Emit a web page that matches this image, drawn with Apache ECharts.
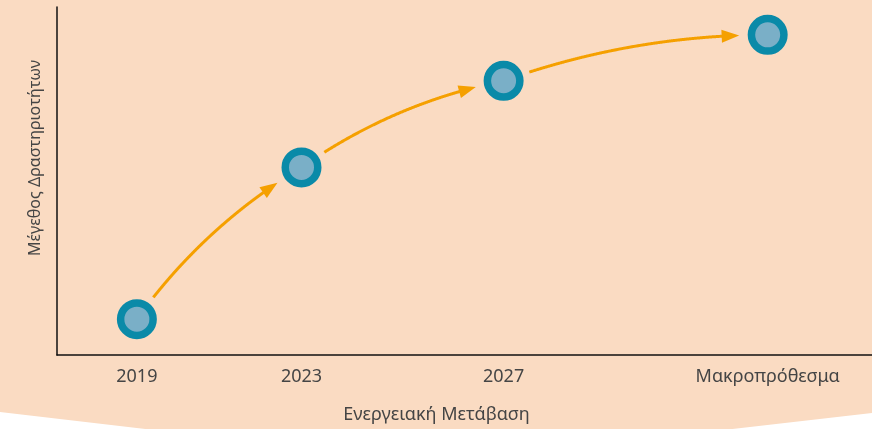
<!DOCTYPE html>
<html>
<head>
<meta charset="utf-8">
<script src="https://cdn.jsdelivr.net/npm/echarts@6/dist/echarts.min.js"></script>
<style>
  html, body { margin: 0; padding: 0; background: #ffffff; }
  #chart { width: 872px; height: 429px; }
</style>
</head>
<body>
<div id="chart"></div>
<script>
// Stages of the energy transition and the relative scale of activity at each one
const stageLabels = ['2019', '2023', '2027', 'Μακροπρόθεσμα'];
const stagePosition = [9.8, 30.0, 54.8, 87.2];   // position along the transition axis (0–100)
const activitySize = [10.3, 53.9, 78.8, 92.0];   // relative size of activities (0–100)

const xAxisTitle = 'Ενεργειακή Μετάβαση';
const yAxisTitle = 'Μέγεθος Δραστηριοτήτων';

const PEACH = '#FADBC2';
const RING = '#0A8AA8';
const CORE = '#7AAFC7';
const ARROW = '#F5A000';
const TEXT = '#454545';
const FONT = '"Noto Sans", "DejaVu Sans", sans-serif';

const chart = echarts.init(document.getElementById('chart'), null, { renderer: 'canvas' });

// Consecutive stage pairs, each joined by a curved arrow
const arrowPairs = stagePosition.slice(0, -1).map((x, i) => [
  x, activitySize[i], stagePosition[i + 1], activitySize[i + 1]
]);

function renderArrow(params, api) {
  const p0 = api.coord([api.value(0), api.value(1)]);
  const p1 = api.coord([api.value(2), api.value(3)]);
  const dx = p1[0] - p0[0], dy = p1[1] - p0[1];
  const len = Math.hypot(dx, dy);
  const bend = 23;                         // sideways pull of the curve, px
  const ctrl = [
    (p0[0] + p1[0]) / 2 + dy / len * bend,
    (p0[1] + p1[1]) / 2 - dx / len * bend
  ];
  const gapStart = 27, gapEnd = 28, headLen = 17, headHalf = 6.5;

  const bez = t => [
    (1 - t) * (1 - t) * p0[0] + 2 * (1 - t) * t * ctrl[0] + t * t * p1[0],
    (1 - t) * (1 - t) * p0[1] + 2 * (1 - t) * t * ctrl[1] + t * t * p1[1]
  ];
  const samples = [];
  for (let k = 0; k <= 400; k++) samples.push(bez(k / 400));

  // tip of the arrow sits gapEnd px before the target centre
  let tipIdx = samples.length - 1;
  while (tipIdx > 0 && Math.hypot(samples[tipIdx][0] - p1[0], samples[tipIdx][1] - p1[1]) < gapEnd) tipIdx--;
  const tip = samples[tipIdx];
  let baseIdx = tipIdx;
  while (baseIdx > 0 && Math.hypot(samples[baseIdx][0] - tip[0], samples[baseIdx][1] - tip[1]) < headLen) baseIdx--;
  const base = samples[baseIdx];
  let startIdx = 0;
  while (startIdx < samples.length - 1 && Math.hypot(samples[startIdx][0] - p0[0], samples[startIdx][1] - p0[1]) < gapStart) startIdx++;

  const line = samples.slice(startIdx, baseIdx + 2);
  const hl = Math.hypot(tip[0] - base[0], tip[1] - base[1]);
  const ux = (tip[0] - base[0]) / hl, uy = (tip[1] - base[1]) / hl;
  const head = [
    tip,
    [base[0] - uy * headHalf, base[1] + ux * headHalf],
    [base[0] + uy * headHalf, base[1] - ux * headHalf]
  ];
  return {
    type: 'group',
    children: [
      { type: 'polyline', shape: { points: line }, style: { stroke: ARROW, lineWidth: 3, fill: null, lineCap: 'butt' } },
      { type: 'polygon', shape: { points: head }, style: { fill: ARROW } }
    ]
  };
}

const option = {
  animation: false,
  backgroundColor: '#ffffff',
  graphic: [{
    type: 'polygon',
    z: -10,
    silent: true,
    shape: { points: [[0, 0], [872, 0], [872, 413], [436, 463], [0, 412]] },
    style: { fill: PEACH }
  }],
  grid: { left: 57, right: 0, top: 7, bottom: 74, containLabel: false },
  xAxis: {
    type: 'value',
    min: 0,
    max: 100,
    name: xAxisTitle,
    nameLocation: 'middle',
    nameGap: 51,
    nameTextStyle: { color: TEXT, fontSize: 18, fontFamily: FONT, padding: [0, 56, 0, 0] },
    axisLine: { show: true, lineStyle: { color: '#111111', width: 1.5 } },
    axisTick: { show: false },
    splitLine: { show: false },
    axisLabel: {
      customValues: stagePosition,
      formatter: v => stageLabels[stagePosition.indexOf(v)] || '',
      color: TEXT,
      fontSize: 18,
      fontFamily: FONT,
      margin: 13
    }
  },
  yAxis: {
    type: 'value',
    min: 0,
    max: 100,
    name: yAxisTitle,
    nameLocation: 'middle',
    nameGap: 14,
    nameTextStyle: { color: TEXT, fontSize: 16, fontFamily: FONT, padding: [0, 0, 0, 46] },
    axisLine: { show: true, lineStyle: { color: '#111111', width: 1.5 } },
    axisTick: { show: false },
    axisLabel: { show: false },
    splitLine: { show: false }
  },
  series: [
    {
      type: 'custom',
      coordinateSystem: 'cartesian2d',
      z: 2,
      encode: { x: [0, 2], y: [1, 3] },
      data: arrowPairs,
      renderItem: renderArrow,
      silent: true
    },
    {
      type: 'scatter',
      z: 3,
      data: stagePosition.map((x, i) => [x, activitySize[i]]),
      symbol: 'circle',
      symbolSize: 32.5,
      itemStyle: { color: CORE, borderColor: RING, borderWidth: 7.5, opacity: 1 },
      silent: true
    }
  ]
};

chart.setOption(option);
</script>
</body>
</html>
